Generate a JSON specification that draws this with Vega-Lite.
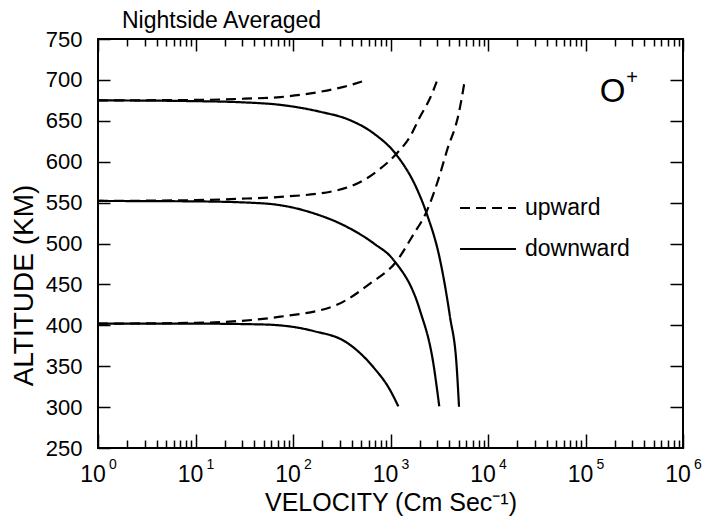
{
  "$schema": "https://vega.github.io/schema/vega-lite/v6.json",
  "width": 585,
  "height": 409,
  "autosize": {"type": "none"},
  "padding": {"left": 98, "top": 39, "right": 29, "bottom": 83},
  "background": "white",
  "config": {
    "view": {"stroke": "black", "strokeWidth": 2},
    "axis": {"domain": false, "grid": false, "tickColor": "black", "tickWidth": 1.5, "labelColor": "black", "titleColor": "black", "labelFont": "Liberation Sans", "titleFont": "Liberation Sans", "labelFontSize": 22, "titleFontWeight": "normal", "labelFlush": false, "labelOverlap": false},
    "text": {"font": "Liberation Sans", "color": "black"}
  },
  "title": {"text": "Nightside Averaged", "anchor": "start", "frame": "group", "dx": 24, "dy": 11, "offset": 6, "fontSize": 23, "fontWeight": "normal", "font": "Liberation Sans", "color": "black"},
  "datasets": {
    "curves": [
      {"curve": "D675", "direction": "downward", "velocity": 1, "altitude": 675},
      {"curve": "D675", "direction": "downward", "velocity": 10, "altitude": 674},
      {"curve": "D675", "direction": "downward", "velocity": 31.6, "altitude": 672.5},
      {"curve": "D675", "direction": "downward", "velocity": 74.1, "altitude": 669.5},
      {"curve": "D675", "direction": "downward", "velocity": 190.5, "altitude": 661},
      {"curve": "D675", "direction": "downward", "velocity": 380, "altitude": 651},
      {"curve": "D675", "direction": "downward", "velocity": 665, "altitude": 635},
      {"curve": "D675", "direction": "downward", "velocity": 1157, "altitude": 608},
      {"curve": "D675", "direction": "downward", "velocity": 1852, "altitude": 567.5},
      {"curve": "D675", "direction": "downward", "velocity": 2344, "altitude": 537},
      {"curve": "D675", "direction": "downward", "velocity": 3221, "altitude": 480},
      {"curve": "D675", "direction": "downward", "velocity": 4074, "altitude": 410.5},
      {"curve": "D675", "direction": "downward", "velocity": 4775, "altitude": 349},
      {"curve": "D675", "direction": "downward", "velocity": 5043, "altitude": 300.5},
      {"curve": "U675", "direction": "upward", "velocity": 1, "altitude": 675},
      {"curve": "U675", "direction": "upward", "velocity": 10, "altitude": 675.5},
      {"curve": "U675", "direction": "upward", "velocity": 31.6, "altitude": 677},
      {"curve": "U675", "direction": "upward", "velocity": 74.1, "altitude": 679},
      {"curve": "U675", "direction": "upward", "velocity": 190.5, "altitude": 685.5},
      {"curve": "U675", "direction": "upward", "velocity": 331, "altitude": 691.5},
      {"curve": "U675", "direction": "upward", "velocity": 510, "altitude": 698},
      {"curve": "D550", "direction": "downward", "velocity": 1, "altitude": 552},
      {"curve": "D550", "direction": "downward", "velocity": 10, "altitude": 551.5},
      {"curve": "D550", "direction": "downward", "velocity": 50.1, "altitude": 549},
      {"curve": "D550", "direction": "downward", "velocity": 162, "altitude": 537},
      {"curve": "D550", "direction": "downward", "velocity": 355, "altitude": 520.5},
      {"curve": "D550", "direction": "downward", "velocity": 676, "altitude": 500},
      {"curve": "D550", "direction": "downward", "velocity": 1072, "altitude": 480},
      {"curve": "D550", "direction": "downward", "velocity": 1995, "altitude": 419},
      {"curve": "D550", "direction": "downward", "velocity": 2754, "altitude": 353},
      {"curve": "D550", "direction": "downward", "velocity": 3162, "altitude": 301},
      {"curve": "U550", "direction": "upward", "velocity": 1, "altitude": 552},
      {"curve": "U550", "direction": "upward", "velocity": 10, "altitude": 553},
      {"curve": "U550", "direction": "upward", "velocity": 33.1, "altitude": 555},
      {"curve": "U550", "direction": "upward", "velocity": 74.1, "altitude": 557},
      {"curve": "U550", "direction": "upward", "velocity": 282, "altitude": 565},
      {"curve": "U550", "direction": "upward", "velocity": 525, "altitude": 577},
      {"curve": "U550", "direction": "upward", "velocity": 776, "altitude": 591},
      {"curve": "U550", "direction": "upward", "velocity": 1157, "altitude": 610},
      {"curve": "U550", "direction": "upward", "velocity": 1585, "altitude": 630.5},
      {"curve": "U550", "direction": "upward", "velocity": 2009, "altitude": 655},
      {"curve": "U550", "direction": "upward", "velocity": 2541, "altitude": 677.5},
      {"curve": "U550", "direction": "upward", "velocity": 2979, "altitude": 698},
      {"curve": "D400", "direction": "downward", "velocity": 1, "altitude": 402},
      {"curve": "D400", "direction": "downward", "velocity": 10, "altitude": 402},
      {"curve": "D400", "direction": "downward", "velocity": 50.1, "altitude": 401},
      {"curve": "D400", "direction": "downward", "velocity": 162, "altitude": 393},
      {"curve": "D400", "direction": "downward", "velocity": 355, "altitude": 379},
      {"curve": "D400", "direction": "downward", "velocity": 676, "altitude": 348},
      {"curve": "D400", "direction": "downward", "velocity": 977, "altitude": 322},
      {"curve": "D400", "direction": "downward", "velocity": 1202, "altitude": 301},
      {"curve": "U400", "direction": "upward", "velocity": 1, "altitude": 402},
      {"curve": "U400", "direction": "upward", "velocity": 10, "altitude": 403},
      {"curve": "U400", "direction": "upward", "velocity": 22.4, "altitude": 404.5},
      {"curve": "U400", "direction": "upward", "velocity": 74.1, "altitude": 410.5},
      {"curve": "U400", "direction": "upward", "velocity": 282, "altitude": 425},
      {"curve": "U400", "direction": "upward", "velocity": 617, "altitude": 451},
      {"curve": "U400", "direction": "upward", "velocity": 1148, "altitude": 478},
      {"curve": "U400", "direction": "upward", "velocity": 1698, "altitude": 510},
      {"curve": "U400", "direction": "upward", "velocity": 2344, "altitude": 539},
      {"curve": "U400", "direction": "upward", "velocity": 3090, "altitude": 578},
      {"curve": "U400", "direction": "upward", "velocity": 3802, "altitude": 614},
      {"curve": "U400", "direction": "upward", "velocity": 5012, "altitude": 659},
      {"curve": "U400", "direction": "upward", "velocity": 5754, "altitude": 698}
    ]
  },
  "layer": [
    {
      "data": {"name": "curves"},
      "mark": {"type": "line", "interpolate": "monotone", "strokeWidth": 2.2, "color": "black"},
      "encoding": {
        "x": {
          "field": "velocity", "type": "quantitative",
          "scale": {"type": "log", "domain": [1, 1000000]},
          "axis": {
            "orient": "bottom",
            "values": [1, 10, 100, 1000, 10000, 100000, 1000000],
            "offset": -14, "tickSize": 14,
            "labelExpr": "'10'", "labelOffset": -5.5, "labelPadding": 15, "labelFontSize": 23,
            "title": "VELOCITY (Cm Sec⁻¹)", "titleFontSize": 25, "titlePadding": 4
          }
        },
        "y": {
          "field": "altitude", "type": "quantitative",
          "scale": {"domain": [250, 750]},
          "axis": {
            "orient": "left",
            "values": [250, 300, 350, 400, 450, 500, 550, 600, 650, 700, 750],
            "offset": -12, "tickSize": 12, "labelPadding": 16,
            "title": "ALTITUDE (KM)", "titleFontSize": 28, "titleAngle": -90, "titleAlign": "center", "titleBaseline": "middle", "titleX": -86, "titleY": 246
          }
        },
        "strokeDash": {
          "field": "direction", "type": "nominal",
          "scale": {"domain": ["upward", "downward"], "range": [[10, 6], [1, 0]]},
          "legend": {"orient": "none", "legendX": 375, "legendY": 154, "title": null, "padding": 0, "symbolType": "M-2,0H2", "symbolSize": 784, "symbolStrokeWidth": 2, "symbolStrokeColor": "black", "labelFont": "Liberation Sans", "labelFontSize": 23, "labelColor": "black", "labelOffset": 22, "rowPadding": 14}
        },
        "detail": {"field": "curve"}
      }
    },
    {
      "data": {"values": [{}]},
      "mark": {"type": "text", "text": "O", "fontSize": 33, "align": "center", "baseline": "alphabetic"},
      "encoding": {
        "x": {"datum": 189000, "type": "quantitative", "scale": {"type": "log", "domain": [1, 1000000]},
          "axis": {"orient": "top", "values": [1, 10, 100, 1000, 10000, 100000, 1000000], "offset": -12, "tickSize": 12, "labels": false, "title": null}},
        "y": {"datum": 673, "type": "quantitative", "scale": {"domain": [250, 750]},
          "axis": {"orient": "right", "values": [300, 350, 400, 450, 500, 550, 600, 650, 700], "offset": -13, "tickSize": 13, "labels": false, "title": null}}
      }
    },
    {
      "data": {"values": [{}]},
      "mark": {"type": "text", "text": "+", "fontSize": 20, "align": "center", "baseline": "alphabetic"},
      "encoding": {
        "x": {"datum": 300000, "type": "quantitative", "scale": {"type": "log", "domain": [1, 1000000]},
          "axis": {"orient": "bottom", "values": [2,3,4,5,6,7,8,9,20,30,40,50,60,70,80,90,200,300,400,500,600,700,800,900,2000,3000,4000,5000,6000,7000,8000,9000,20000,30000,40000,50000,60000,70000,80000,90000,200000,300000,400000,500000,600000,700000,800000,900000], "offset": -8, "tickSize": 8, "labels": false, "title": null}},
        "y": {"datum": 695, "type": "quantitative", "scale": {"domain": [250, 750]}, "axis": null}
      }
    },
    {
      "data": {"values": [{}]},
      "mark": {"type": "text", "text": ""},
      "encoding": {
        "x": {"datum": 1000, "type": "quantitative", "scale": {"type": "log", "domain": [1, 1000000]},
          "axis": {"orient": "top", "values": [2,3,4,5,6,7,8,9,20,30,40,50,60,70,80,90,200,300,400,500,600,700,800,900,2000,3000,4000,5000,6000,7000,8000,9000,20000,30000,40000,50000,60000,70000,80000,90000,200000,300000,400000,500000,600000,700000,800000,900000], "offset": -7, "tickSize": 7, "labels": false, "title": null}},
        "y": {"datum": 500, "type": "quantitative", "scale": {"domain": [250, 750]}, "axis": null}
      }
    },
    {
      "data": {"values": [{}]},
      "mark": {"type": "text", "text": ""},
      "encoding": {
        "x": {"datum": 1000, "type": "quantitative", "scale": {"type": "log", "domain": [1, 1000000]},
          "axis": {"orient": "bottom", "values": [1, 10, 100, 1000, 10000, 100000, 1000000], "ticks": false, "labelExpr": "format(log(datum.value) / LN10, '.0f')", "labelFontSize": 14, "labelOffset": 14.5, "labelPadding": 9, "title": null}},
        "y": {"datum": 500, "type": "quantitative", "scale": {"domain": [250, 750]}, "axis": null}
      }
    }
  ],
  "resolve": {"axis": {"x": "independent", "y": "independent"}}
}
